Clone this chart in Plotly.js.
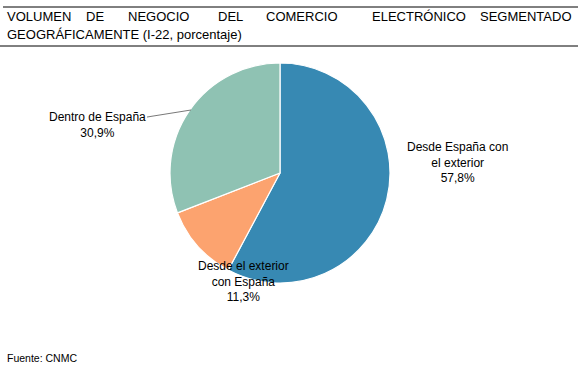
<!DOCTYPE html>
<html>
<head>
<meta charset="utf-8">
<script src="https://cdn.plot.ly/plotly-3.0.1.min.js"></script>
<style>html,body{margin:0;padding:0;background:#fff;}#chart{width:583px;height:381px;}</style>
</head>
<body>
<div id="chart"></div>
<script>
// ---- data ----
const categories = ["Desde España con el exterior", "Desde el exterior con España", "Dentro de España"];
const wrappedLabels = ["Desde España con<br>el exterior", "Desde el exterior<br>con España", "Dentro de España"];
const values = [57.8, 11.3, 30.9];
const colors = ["#3789b3", "#fca36f", "#8fc2b3"];
const titleLine1Words = ["VOLUMEN", "DE", "NEGOCIO", "DEL", "COMERCIO", "ELECTRÓNICO", "SEGMENTADO"];
const titleLine2 = "GEOGRÁFICAMENTE (I-22, porcentaje)";
const sourceText = "Fuente: CNMC";

// ---- layout helpers ----
const W = 583, H = 381;
const FONT = "Liberation Sans, Arial, sans-serif";
const px = x => x / W;
const py = y => 1 - y / H;
const fmt = v => v.toFixed(1).replace('.', ',') + '%';

// pie geometry (pixels)
const cx = 280, cy = 173, r = 110;

// justified title: left edge of each word (pixels), as set in the original
const titleWordX = [7, 86, 128, 218, 266, 372, 480];
const PAD = 2; // annotation box padding

const annotations = [];
const titleSize = 13;
titleLine1Words.forEach((w, i) => {
  annotations.push({xref: 'paper', yref: 'paper', x: px(titleWordX[i] - PAD), y: py(16), xanchor: 'left', yanchor: 'middle',
    text: w, showarrow: false, font: {family: FONT, size: titleSize, color: '#000'}});
});
annotations.push({xref: 'paper', yref: 'paper', x: px(7 - PAD), y: py(35), xanchor: 'left', yanchor: 'middle',
  text: titleLine2, showarrow: false, font: {family: FONT, size: titleSize, color: '#000'}});

// source
annotations.push({xref: 'paper', yref: 'paper', x: px(7 - PAD), y: py(358), xanchor: 'left', yanchor: 'middle',
  text: sourceText, showarrow: false, font: {family: FONT, size: 10.5, color: '#000'}});

// slice labels
const labelFont = {family: FONT, size: 12, color: '#000'};
annotations.push({xref: 'paper', yref: 'paper', x: px(457), y: py(162), xanchor: 'center', yanchor: 'middle',
  text: wrappedLabels[0] + '<br>' + fmt(values[0]), showarrow: false, font: labelFont, align: 'center'});
annotations.push({xref: 'paper', yref: 'paper', x: px(243), y: py(281), xanchor: 'center', yanchor: 'middle',
  text: wrappedLabels[1] + '<br>' + fmt(values[1]), showarrow: false, font: labelFont, align: 'center'});
annotations.push({xref: 'paper', yref: 'paper', x: px(191), y: py(110), xanchor: 'center', yanchor: 'middle',
  ax: -94, ay: 15, text: wrappedLabels[2] + '<br>' + fmt(values[2]), showarrow: true, arrowhead: 0,
  arrowwidth: 0.8, arrowcolor: '#555', standoff: 0, startstandoff: 0, font: labelFont, align: 'center'});

const trace = {
  type: 'pie',
  labels: categories,
  values: values,
  sort: false,
  direction: 'clockwise',
  rotation: 0,
  textinfo: 'none',
  hoverinfo: 'label+percent',
  marker: {colors: colors, line: {color: '#fff', width: 1.2}},
  domain: {x: [px(cx - r), px(cx + r)], y: [py(cy + r), py(cy - r)]},
  showlegend: false
};

const layout = {
  width: W, height: H,
  margin: {l: 0, r: 0, t: 0, b: 0},
  paper_bgcolor: '#fff',
  showlegend: false,
  annotations: annotations,
  shapes: [
    {type: 'line', xref: 'paper', yref: 'paper', x0: px(3), x1: px(578), y0: py(7), y1: py(7), line: {color: '#000', width: 1}},
    {type: 'line', xref: 'paper', yref: 'paper', x0: px(0), x1: px(578), y0: py(46), y1: py(46), line: {color: '#000', width: 1}}
  ]
};

Plotly.newPlot('chart', [trace], layout, {displayModeBar: false, staticPlot: true});
</script>
</body>
</html>
